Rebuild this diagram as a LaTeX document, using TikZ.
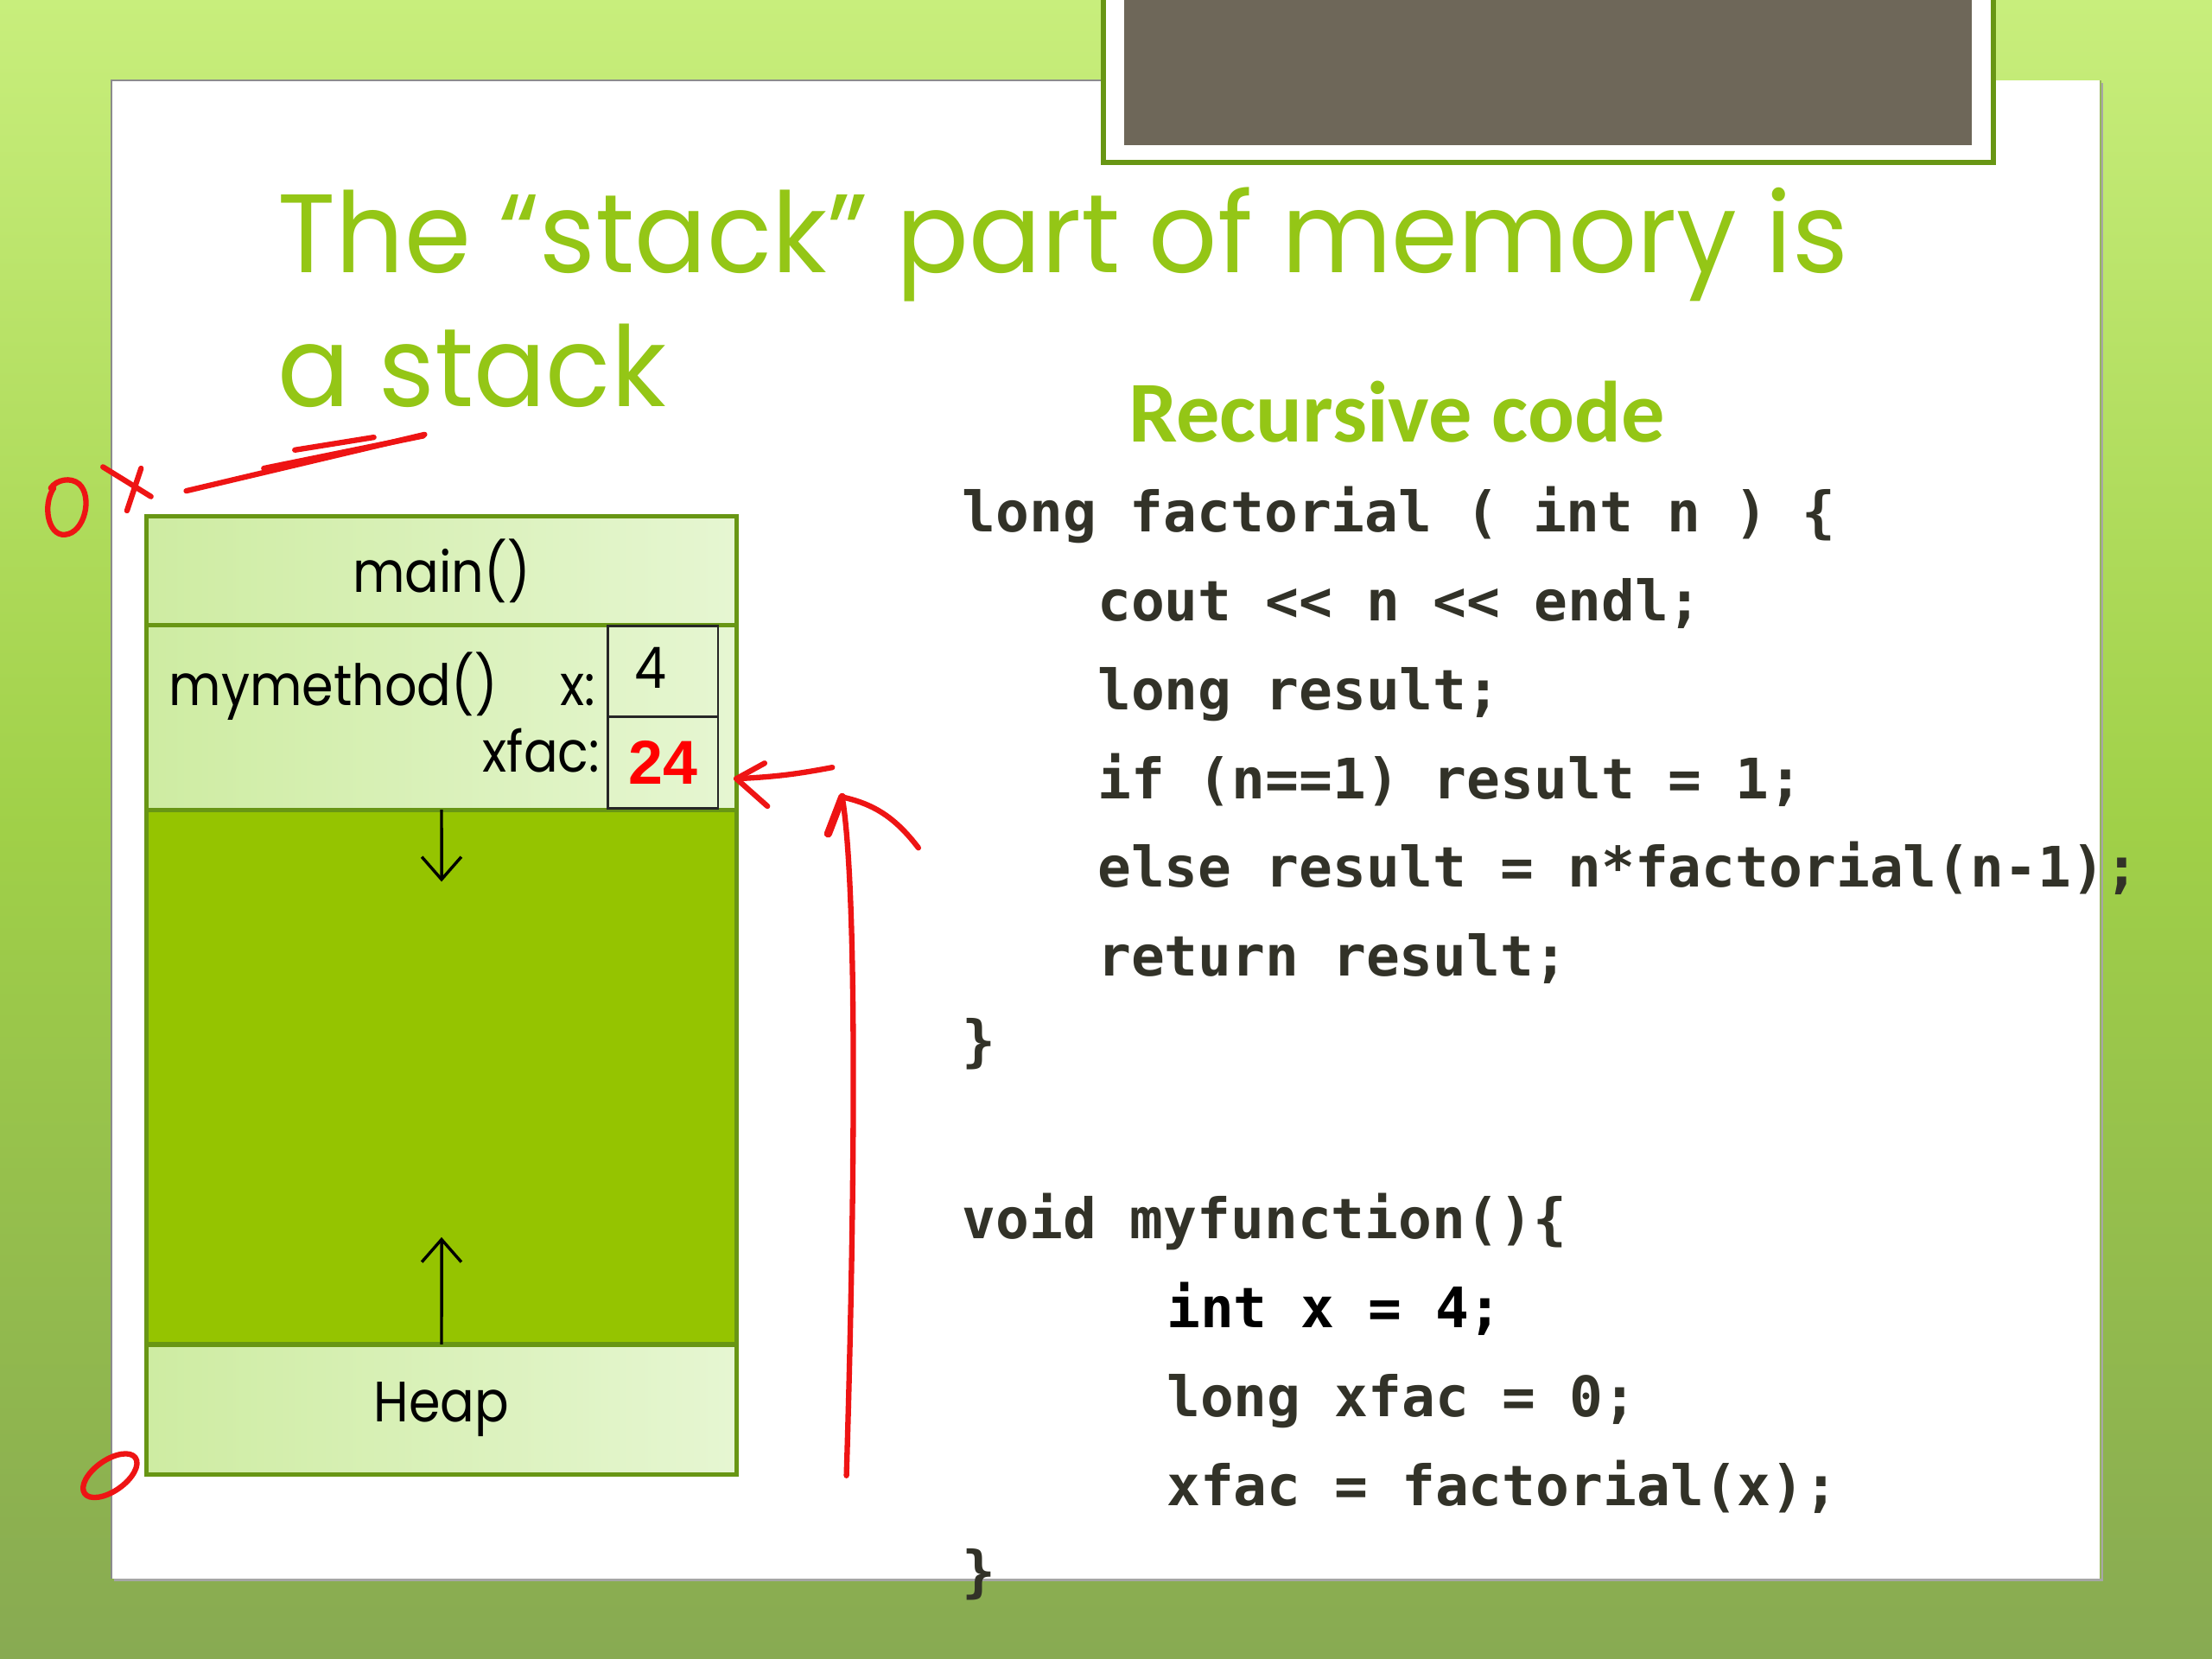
\documentclass[tikz,border=0pt]{standalone}
\usepackage{fontspec}
\setmainfont{Poppins}
\newfontfamily\titlefont{Poppins}[FakeStretch=0.96]
\newfontfamily\boxfont{Poppins}[FakeStretch=0.89]
\newfontfamily\codefont{DejaVu Sans Mono}
\newfontfamily\headfont{Carlito}
\newfontfamily\numfont{Liberation Sans}
\usepackage{xcolor}
\usetikzlibrary{arrows.meta, positioning}

\definecolor{titlegreen}{RGB}{148,198,22}
\definecolor{stackgreen}{RGB}{149,196,0}
\definecolor{cellline}{RGB}{104,150,20}
\definecolor{cellleft}{RGB}{206,236,162}
\definecolor{cellright}{RGB}{230,246,210}
\definecolor{codegray}{RGB}{50,50,40}
\definecolor{slidetop}{RGB}{200,238,124}
\definecolor{slidemid}{RGB}{160,208,72}
\definecolor{slidebot}{RGB}{136,170,82}
\definecolor{photobrown}{RGB}{110,103,89}
\definecolor{pen}{RGB}{238,20,20}

\begin{document}
\begin{tikzpicture}[
    every node/.style={inner sep=0pt, outer sep=0pt},
    cell/.style={draw=cellline, line width=0.9pt, left color=cellleft, right color=cellright,
      minimum width=4.18cm, font=\boxfont\fontsize{11.5}{13}\selectfont},
    freearea/.style={draw=cellline, line width=0.9pt, fill=stackgreen, minimum width=4.18cm},
    valbox/.style={draw=black!85, line width=0.5pt, minimum width=0.78cm},
    label/.style={font=\boxfont\fontsize{11.5}{13}\selectfont, anchor=base west},
    codeline/.style={font=\codefont\bfseries\fontsize{11.25}{13}\selectfont, text=codegray, anchor=base west},
    growarrow/.style={-{Straight Barb[length=1.6mm, width=2.8mm]}, line width=0.6pt},
    penline/.style={pen, line width=1.1pt, line cap=round, line join=round}
  ]
  % slide background and frame
  \useasboundingbox (0,0) rectangle (15.68,-11.76);
  \shade[top color=slidetop, bottom color=slidebot, middle color=slidemid] (0,0) rectangle (15.68,-11.76);
  \fill[black!35] (0.81,-0.59) rectangle (14.91,-11.21);
  \fill[white] (0.79,-0.57) rectangle (14.89,-11.19);
  \draw[black!45, line width=0.4pt] (0.79,-11.19) -- (0.79,-0.57) -- (7.82,-0.57);
  \draw[cellline!70, line width=0.4pt] (14.89,-0.57) -- (14.89,-11.19);
  \fill[white] (7.82,0) rectangle (14.13,-1.15);
  \draw[cellline, line width=1pt] (7.82,0) -- (7.82,-1.15) -- (14.13,-1.15) -- (14.13,0);
  \fill[photobrown] (7.97,0) rectangle (13.98,-1.03);

  % title
  \node[anchor=base west, text=titlegreen, font=\titlefont\fontsize{22.5}{27}\selectfont] (title1) at (1.97,-1.93) {The “stack” part of memory is};
  \node[anchor=base west, text=titlegreen, font=\titlefont\fontsize{22.5}{27}\selectfont] (title2) at (1.97,-2.88) {a stack};

  % stack frames
  \node[cell, minimum height=0.77cm, anchor=north west] (mainrow) at (1.04,-3.66) {main()};
  \node[cell, minimum height=1.31cm, below=0pt of mainrow] (methodrow) {};
  \node[freearea, minimum height=3.79cm, below=0pt of methodrow] (freerow) {};
  \node[cell, minimum height=0.92cm, below=0pt of freerow] (heaprow) {Heap};
  \node[valbox, minimum height=0.64cm, anchor=north east] (xval) at (5.09,-4.44) {};
  \node[valbox, minimum height=0.65cm, below=0pt of xval] (facval) {};
  \node[label] (methodname) at (1.20,-5.00) {mymethod()};
  \node[label, anchor=base east] (xname) at (4.22,-5.00) {x:};
  \node[label, anchor=base east] (facname) at (4.25,-5.47) {xfac:};
  \node[label, anchor=base west] (xnum) at (4.50,-4.88) {4};
  \node[text=red, font=\numfont\bfseries\fontsize{12.5}{14}\selectfont] (facnum) at (facval) {24};
  \coordinate (downtip) at (3.13,-6.25);
  \coordinate (uptip) at (3.13,-8.77);
  \draw[growarrow] (freerow.north) -- (downtip);
  \draw[growarrow] (heaprow.north) -- (uptip);

  % code
  \node[anchor=base west, text=titlegreen, font=\headfont\bfseries\fontsize{17.5}{20}\selectfont] (codehead) at (8.00,-3.13) {Recursive code};
  \node[codeline] (c1) at (6.82,-3.77) {long factorial ( int n ) \{};
  \node[codeline] (c2) at (7.78,-4.40) {cout << n << endl;};
  \node[codeline] (c3) at (7.78,-5.03) {long result;};
  \node[codeline] (c4) at (7.78,-5.66) {if (n==1) result = 1;};
  \node[codeline] (c5) at (7.78,-6.29) {else result = n*factorial(n-1);};
  \node[codeline] (c6) at (7.78,-6.92) {return result;};
  \node[codeline] (c7) at (6.82,-7.52) {\}};
  \node[codeline] (c8) at (6.82,-8.78) {void myfunction()\{};
  \node[codeline, text=black] (c9) at (8.27,-9.41) {int x = 4;};
  \node[codeline] (c10) at (8.27,-10.04) {long xfac = 0;};
  \node[codeline] (c11) at (8.27,-10.67) {xfac = factorial(x);};
  \node[codeline] (c12) at (6.82,-11.28) {\}};

  % pen marks
  \draw[penline] (0.38,-3.46) .. controls (0.30,-3.58) and (0.34,-3.80) .. (0.46,-3.79)
    .. controls (0.60,-3.78) and (0.66,-3.52) .. (0.56,-3.43) .. controls (0.50,-3.38) and (0.40,-3.40) .. (0.36,-3.46);
  \draw[penline] (0.73,-3.31) -- (1.07,-3.52);
  \draw[penline] (1.00,-3.32) -- (0.90,-3.62);
  \draw[penline] (1.32,-3.48) -- (3.01,-3.08);
  \draw[penline] (1.87,-3.32) -- (3.00,-3.09);
  \draw[penline] (2.09,-3.19) -- (2.65,-3.10);
  \draw[penline, rotate around={35:(0.78,-10.46)}] (0.78,-10.46) ellipse (0.22 and 0.11);
  \coordinate (pentail) at (5.90,-5.44);
  \coordinate (pentip) at (5.22,-5.52);
  \draw[penline] (pentail) to[bend left=4] (pentip);
  \draw[penline] (pentip) -- (5.42,-5.41);
  \draw[penline] (pentip) -- (5.44,-5.715);
  \coordinate (upbase) at (6.00,-10.46);
  \coordinate (uphead) at (5.97,-5.65);
  \draw[penline] (upbase) .. controls (6.06,-8.5) and (6.08,-6.3) .. (uphead);
  \draw[penline, line width=1.6pt] (uphead) -- (5.87,-5.91);
  \draw[penline] (uphead) .. controls (6.20,-5.70) and (6.35,-5.80) .. (6.51,-6.01);
\end{tikzpicture}
\end{document}
